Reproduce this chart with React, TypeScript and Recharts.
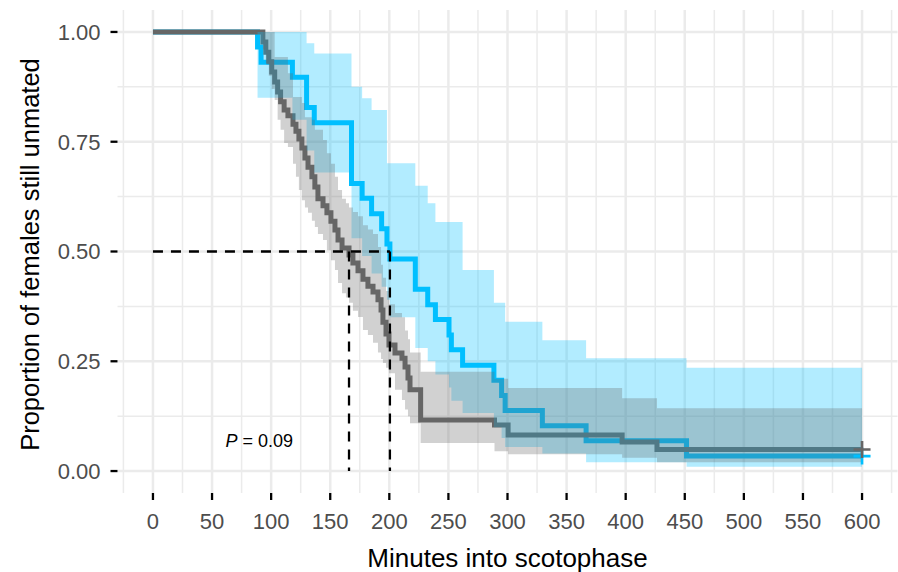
import React from 'react';
import {
  ComposedChart, Area, XAxis, YAxis, CartesianGrid, ReferenceLine, ReferenceDot,
} from 'recharts';

// Kaplan-Meier estimates (minutes into scotophase -> proportion still unmated)
const blueTime = [0, 88.5, 91.5, 118, 130, 136.5, 168, 177, 185, 193.5, 198, 200.5, 222, 232.5, 239, 250.5, 252.5, 262, 288.5, 295, 298, 329.5, 366.5, 451.5, 600];
const blueSurv = [1, 0.966, 0.931, 0.897, 0.828, 0.793, 0.655, 0.621, 0.586, 0.552, 0.517, 0.483, 0.414, 0.379, 0.345, 0.31, 0.276, 0.241, 0.207, 0.172, 0.138, 0.103, 0.069, 0.034, 0.034];

const grayTime = [0, 93, 95.5, 98, 100.5, 103, 105.5, 108, 111, 114.2, 118.5, 121, 123.5, 126, 128.6, 131.2, 134.5, 137, 139.6, 143.9, 147.2, 150.6, 154, 156.6, 160, 163.3, 165.9, 169.2, 173.5, 177.7, 181.9, 186.2, 190.4, 193, 194.6, 197.2, 199.7, 204.8, 210.7, 213.3, 215.8, 217.5, 226.5, 289, 300.5, 397, 426.5, 600];
const graySurv = [1, 0.977, 0.954, 0.932, 0.909, 0.886, 0.863, 0.841, 0.822, 0.809, 0.79, 0.774, 0.756, 0.736, 0.713, 0.692, 0.67, 0.647, 0.62, 0.604, 0.588, 0.569, 0.549, 0.526, 0.508, 0.508, 0.492, 0.474, 0.456, 0.437, 0.421, 0.408, 0.39, 0.367, 0.339, 0.312, 0.287, 0.269, 0.257, 0.237, 0.212, 0.185, 0.116, 0.105, 0.082, 0.066, 0.049, 0.049];

// confidence bands
const blueBandTime = [88.5, 118, 130, 136.5, 168, 177, 185, 193.5, 198, 200.5, 222, 232.5, 239, 250.5, 252.5, 262, 288.5, 295, 298, 329.5, 366.5, 451.5, 600];
const blueBandLow = [0.85, 0.8, 0.73, 0.68, 0.53, 0.49, 0.45, 0.42, 0.39, 0.35, 0.28, 0.25, 0.22, 0.19, 0.16, 0.132, 0.1, 0.075, 0.055, 0.04, 0.02, 0.01, 0.01];
const blueBandHigh = [1, 1, 0.974, 0.951, 0.875, 0.849, 0.822, 0.822, 0.701, 0.701, 0.65, 0.61, 0.567, 0.567, 0.567, 0.458, 0.383, 0.383, 0.34, 0.298, 0.257, 0.235, 0.235];

const grayBandTime = [93, 95.5, 98, 100.5, 103, 105.5, 108, 111, 114.2, 118.5, 121, 123.5, 126, 128.6, 131.2, 134.5, 137, 139.6, 143.9, 147.2, 150.6, 154, 156.6, 160, 163.3, 165.9, 169.2, 173.5, 177.7, 181.9, 186.2, 190.4, 193, 194.6, 197.2, 199.7, 204.8, 210.7, 213.3, 215.8, 217.5, 226.5, 289, 300.5, 397, 426.5, 600];
const grayBandLow = [0.96, 0.93, 0.9, 0.87, 0.845, 0.8, 0.777, 0.747, 0.738, 0.7, 0.67, 0.64, 0.617, 0.6, 0.588, 0.57, 0.556, 0.54, 0.526, 0.503, 0.48, 0.458, 0.428, 0.405, 0.395, 0.383, 0.365, 0.351, 0.321, 0.31, 0.292, 0.27, 0.255, 0.246, 0.235, 0.223, 0.185, 0.162, 0.14, 0.125, 0.109, 0.064, 0.045, 0.038, 0.03, 0.02, 0.02];
const grayBandHigh = [1, 1, 1, 1, 0.943, 0.943, 0.943, 0.943, 0.906, 0.852, 0.852, 0.852, 0.838, 0.806, 0.806, 0.8, 0.777, 0.777, 0.754, 0.724, 0.7, 0.67, 0.64, 0.62, 0.61, 0.6, 0.59, 0.58, 0.56, 0.55, 0.54, 0.51, 0.47, 0.44, 0.41, 0.38, 0.36, 0.35, 0.32, 0.3, 0.27, 0.226, 0.21, 0.189, 0.166, 0.143, 0.143];

const censorTime = 600;
const blueCensor = 0.034;
const grayCensor = 0.049;
const medianTimes = [165.9, 200.5];
const medianLevel = 0.5;
const pLabel = { t: 90, s: 0.07, text: ' = 0.09' };

const xTicks = [0, 50, 100, 150, 200, 250, 300, 350, 400, 450, 500, 550, 600];
const xMinor = [-25, 25, 75, 125, 175, 225, 275, 325, 375, 425, 475, 525, 575, 625];
const yTicks = [0, 0.25, 0.5, 0.75, 1];
const yMinor = [0.125, 0.375, 0.625, 0.875];

const BLUE = '#00BFFF';
const GRAY = '#666666';
const FONT = '"Liberation Sans", Arial, Helvetica, sans-serif';

const blueData = blueTime.map((t, i) => ({ t, s: blueSurv[i] }));
const grayData = grayTime.map((t, i) => ({ t, s: graySurv[i] }));
const blueBand = blueBandTime.map((t, i) => ({ t, r: [blueBandLow[i], blueBandHigh[i]] }));
const grayBand = grayBandTime.map((t, i) => ({ t, r: [grayBandLow[i], grayBandHigh[i]] }));

const plus = (color: string) => (p: any) => (
  <path
    d={`M${p.cx - 8.5},${p.cy}H${p.cx + 8.5}M${p.cx},${p.cy - 8.5}V${p.cy + 8.5}`}
    stroke={color}
    strokeWidth={2.6}
    fill="none"
  />
);

const pText = (p: any) => (
  <text x={p.cx} y={p.cy} dy="0.35em" textAnchor="middle" fontSize={18} fontFamily={FONT} fill="#000">
    <tspan fontStyle="italic">P</tspan>
    {pLabel.text}
  </text>
);

const YTitle = (props: any) => {
  const vb = props.viewBox || { y: 10, height: 483 };
  const cx = 39;
  const cy = vb.y + vb.height / 2 + 3;
  return (
    <text x={cx} y={cy} transform={`rotate(-90 ${cx} ${cy})`} textAnchor="middle" fontSize={25.5} fontFamily={FONT} fill="#000">
      Proportion of females still unmated
    </text>
  );
};

export default function App() {
  return (
    <div style={{ position: 'absolute', left: 0, top: 0, background: '#fff' }}>
      <ComposedChart width={898} height={572} margin={{ top: 10, right: 0.5, bottom: 0, left: 0 }}>
        <CartesianGrid stroke="#EBEBEB" strokeWidth={1.5} verticalValues={xMinor} horizontalValues={yMinor} />
        <CartesianGrid stroke="#EBEBEB" strokeWidth={2.5} verticalValues={xTicks} horizontalValues={yTicks} />
        <XAxis
          dataKey="t"
          type="number"
          domain={[-30, 630]}
          ticks={xTicks}
          allowDataOverflow
          axisLine={false}
          tickLine={{ stroke: '#000', strokeWidth: 2.3 }}
          tickSize={7}
          tickMargin={13}
          height={79}
          tick={{ fill: '#4D4D4D', fontSize: 22, fontFamily: FONT }}
          label={{ value: 'Minutes into scotophase', position: 'insideBottom', offset: 5, fill: '#000', fontSize: 26, fontFamily: FONT }}
        />
        <YAxis
          type="number"
          domain={[-0.05, 1.05]}
          ticks={yTicks}
          allowDataOverflow
          axisLine={false}
          tickLine={{ stroke: '#000', strokeWidth: 2.3 }}
          tickSize={7}
          tickMargin={10}
          width={117.5}
          tickFormatter={(v: number) => v.toFixed(2)}
          tick={{ fill: '#4D4D4D', fontSize: 22, fontFamily: FONT }}
          label={{ content: YTitle }}
        />
        {/* survival curves, drawn beneath the translucent bands */}
        <Area data={blueData} dataKey="s" type="stepAfter" stroke={BLUE} strokeWidth={5} fill="none" dot={false} activeDot={false} isAnimationActive={false} />
        <Area data={grayData} dataKey="s" type="stepAfter" stroke={GRAY} strokeWidth={5} fill="none" dot={false} activeDot={false} isAnimationActive={false} />
        <Area data={blueBand} dataKey="r" type="stepAfter" fill={BLUE} fillOpacity={0.3} stroke="none" dot={false} activeDot={false} isAnimationActive={false} />
        <Area data={grayBand} dataKey="r" type="stepAfter" fill={GRAY} fillOpacity={0.3} stroke="none" dot={false} activeDot={false} isAnimationActive={false} />
        <ReferenceDot x={censorTime} y={blueCensor} r={0} shape={plus(BLUE)} />
        <ReferenceDot x={censorTime} y={grayCensor} r={0} shape={plus(GRAY)} />
        <ReferenceLine segment={[{ x: 0, y: medianLevel }, { x: medianTimes[1], y: medianLevel }]} stroke="#000" strokeWidth={2.3} strokeDasharray="10 8" />
        <ReferenceLine segment={[{ x: medianTimes[0], y: medianLevel }, { x: medianTimes[0], y: 0 }]} stroke="#000" strokeWidth={2.3} strokeDasharray="10 8" />
        <ReferenceLine segment={[{ x: medianTimes[1], y: medianLevel }, { x: medianTimes[1], y: 0 }]} stroke="#000" strokeWidth={2.3} strokeDasharray="10 8" />
        <ReferenceDot x={pLabel.t} y={pLabel.s} r={0} shape={pText} />
      </ComposedChart>
    </div>
  );
}
